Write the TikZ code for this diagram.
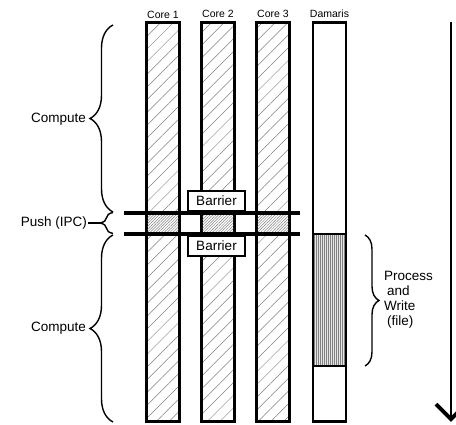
\documentclass[tikz,border=0pt]{standalone}
\usepackage{fontspec}
\setmainfont{Liberation Sans}
\usetikzlibrary{positioning, patterns.meta, decorations.pathreplacing, arrows.meta}

\begin{document}
\begin{tikzpicture}[
    x=1pt, y=1pt,
    font=\fontsize{13.5}{15}\selectfont,
    column/.style={draw, line width=2.4pt, minimum width=33pt, minimum height=399pt, inner sep=0pt},
    corehatch/.style={pattern={Lines[angle=45, distance=9pt, line width=0.5pt]}, pattern color=gray},
    pushhatch/.style={fill=white, postaction={pattern={Lines[angle=45, distance=2pt, line width=0.5pt]}, pattern color=gray}},
    filehatch/.style={fill=gray!20, postaction={pattern={Lines[angle=90, distance=2pt, line width=0.6pt]}, pattern color=gray}},
    colname/.style={font=\fontsize{10.5}{12}\selectfont, inner sep=1pt},
    barrierbox/.style={draw, fill=white, line width=1.8pt, minimum width=57pt, minimum height=20pt, inner sep=0pt},
    ipcbar/.style={line width=4pt},
    brace/.style={decorate, decoration={brace, amplitude=#1}, line width=1.4pt},
    timeline/.style={line width=1.5pt, >={Straight Barb[length=15pt, width=30pt, line width=4pt]}, ->}
]
    \useasboundingbox (0,0) rectangle (456,425);

    % columns
    \node (c1) [column, corehatch] at (163,203) {};
    \node (c2) [column, corehatch] at (218,203) {};
    \node (c3) [column, corehatch] at (273,203) {};
    \node (dam) [column, fill=white] at (329.5,203) {};

    \node (l1) [colname, above=2pt of c1] {Core 1};
    \node (l2) [colname, above=2pt of c2] {Core 2};
    \node (l3) [colname, above=2pt of c3] {Core 3};
    \node (l4) [colname, above=2pt of dam] {Damaris};

    % push phase
    \foreach \x in {163,218,273}
        \path[pushhatch] (\x-15.3,192) rectangle (\x+15.3,210);
    \coordinate (barAw) at (124,212);
    \coordinate (barAe) at (300,212);
    \coordinate (barBw) at (124,191);
    \coordinate (barBe) at (300,191);
    \draw[ipcbar] (barAw) -- (barAe);
    \draw[ipcbar] (barBw) -- (barBe);
    \node (bar1) [barrierbox] at (216.5,224) {Barrier};
    \node (bar2) [barrierbox] at (216.5,179) {Barrier};

    % write phase on the dedicated core
    \path[filehatch] (314,59) rectangle (345,191);
    \coordinate (wtopw) at (313,191);
    \coordinate (wtope) at (346,191);
    \coordinate (wbotw) at (313,59);
    \coordinate (wbote) at (346,59);
    \draw[line width=2.4pt] (wtopw) -- (wtope);
    \draw[line width=2.4pt] (wbotw) -- (wbote);

    % braces
    \draw[brace=23pt] (113,213) -- (113,400);
    \draw[brace=13pt] (113,191.5) -- (113,212.5);
    \draw[brace=23pt] (113,3) -- (113,190);
    \draw[brace=14pt] (365,190) -- (365,59);

    \node (comp1) [anchor=east, inner sep=1pt] at (87,306) {Compute};
    \node (comp2) [anchor=east, inner sep=1pt] at (87,97) {Compute};
    \node (push) [anchor=east, inner sep=1pt] at (88,202) {Push (IPC)};
    \coordinate (pushtip) at (100,202);
    \draw[line width=1.4pt] (push) -- (pushtip);
    \node (proc) [anchor=west, align=left, inner sep=0pt] at (384,125) {Process\\\hspace{3pt}and\\Write\\\hspace{3pt}(file)};

    % time
    \coordinate (tstart) at (451,403);
    \coordinate (tend) at (451,3);
    \draw[timeline] (tstart) -- (tend);
\end{tikzpicture}
\end{document}
